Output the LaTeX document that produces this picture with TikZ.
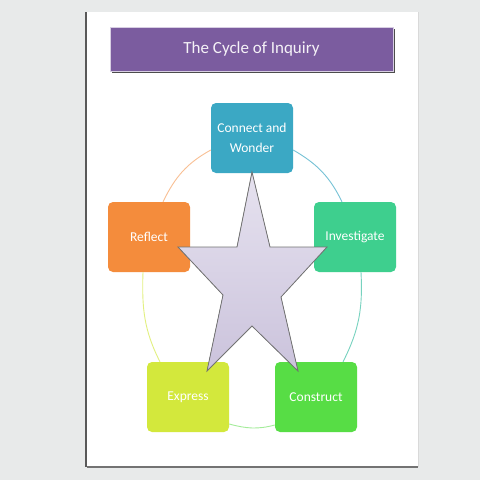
\documentclass[tikz,border=0pt]{standalone}
\usepackage{fontspec}
\setmainfont{Carlito}

\definecolor{backgrey}{HTML}{E8EAEA}
\definecolor{titlepurple}{HTML}{7B5C9F}
\definecolor{conncol}{HTML}{3BA8C4}
\definecolor{invcol}{HTML}{3ECF8E}
\definecolor{conscol}{HTML}{57DD45}
\definecolor{exprcol}{HTML}{D3E83C}
\definecolor{reflcol}{HTML}{F48C3C}
\definecolor{startop}{HTML}{E6E2EF}
\definecolor{starbottom}{HTML}{CBC3DC}

\tikzset{
  stagebox/.style={rounded corners=5pt, minimum width=82pt, minimum height=70pt,
    text=white, align=center, font=\fontsize{13.5}{20}\selectfont},
  ring/.style={line width=0.9pt}
}

\begin{document}
\begin{tikzpicture}[x=1pt,y=-1pt]
  \fill[backgrey] (0,0) rectangle (480,480);
  \useasboundingbox (0,0) rectangle (480,480);
  % the page
  \fill[white] (87,12) rectangle (418,467);
  \draw[black!65, line width=1.2pt] (86,12) -- (86,467);
  \draw[black!55, line width=1.2pt] (87,467) -- (418,467);
  \draw[black!15] (418,12) -- (418,467);

  % title bar
  \fill[black!70] (112,29) rectangle (395,73);
  \node[fill=titlepurple, draw=titlepurple!30, minimum width=283pt, minimum height=44pt,
    text=white!92!titlepurple, font=\fontsize{17}{20}\selectfont] (title) at (251.5,49) {The Cycle of Inquiry};

  \node[stagebox, fill=conncol] (conn) at (252,138) {Connect and\\Wonder};
  \node[stagebox, fill=invcol]  (inv)  at (355,237) {Investigate};
  \node[stagebox, fill=conscol] (cons) at (316,397) {Construct};
  \node[stagebox, fill=exprcol] (expr) at (188,397) {Express};
  \node[stagebox, fill=reflcol] (refl) at (149,237) {Reflect};

  % the ring
  \draw[ring, draw=reflcol!55] ([xshift=14pt]refl.north) to[out=64, in=209] ([yshift=-12pt]conn.west);
  \draw[ring, draw=conncol!70] ([yshift=-12pt]conn.east) to[out=-30, in=116] ([xshift=-13pt]inv.north);
  \draw[ring, draw=invcol!60!conncol!70] ([xshift=6pt]inv.south) to[out=-87, in=63] ([xshift=27pt]cons.north);
  \draw[ring, draw=conscol!55] ([yshift=-27pt]expr.east) to[out=-15, in=195] ([yshift=-28pt]cons.west);
  \draw[ring, draw=exprcol!65] ([xshift=-28pt]expr.north) to[out=117, in=268] ([xshift=-6pt]refl.south);

  % star
  \filldraw[draw=black!55, line width=0.8pt, top color=startop, bottom color=starbottom]
    (252,172) -- (270,247) -- (327,247) -- (281,297) -- (298,371) -- (252,326)
    -- (207,371) -- (223,295) -- (178,247) -- (237,247) -- cycle;
\end{tikzpicture}
\end{document}
